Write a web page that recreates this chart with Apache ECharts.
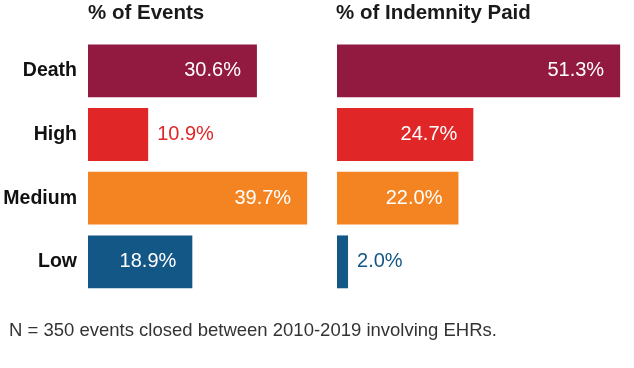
<!DOCTYPE html>
<html>
<head>
<meta charset="utf-8">
<script src="https://cdn.jsdelivr.net/npm/echarts@6/dist/echarts.min.js"></script>
<style>html,body{margin:0;padding:0;background:#fff}#c{width:634px;height:368px}</style>
</head>
<body>
<div id="c"></div>
<script>
var categories = ['Death', 'High', 'Medium', 'Low'];
var eventsPct = [30.6, 10.9, 39.7, 18.9];
var indemnityPct = [51.3, 24.7, 22.0, 2.0];
var barColors = ['#921940', '#E12628', '#F38421', '#135786'];
var panelTitles = ['% of Events', '% of Indemnity Paid'];
var footnote = 'N = 350 events closed between 2010-2019 involving EHRs.';

var boldFont = "'Liberation Sans', Arial, sans-serif";
var regular = "'Liberation Sans', Arial, sans-serif";

function buildData(values) {
  return values.map(function (v, i) {
    var outside = v < 15;
    return {
      value: v,
      itemStyle: { color: barColors[i] },
      label: outside
        ? { position: 'right', distance: 9, color: barColors[i] }
        : { position: 'insideRight', distance: 16, color: '#ffffff' }
    };
  });
}

var chart = echarts.init(document.getElementById('c'), null, { renderer: 'canvas' });
chart.setOption({
  animation: false,
  backgroundColor: '#ffffff',
  title: [
    { text: panelTitles[0], left: 88, top: 3, padding: 0,
      textStyle: { fontFamily: boldFont, fontWeight: 'bold', fontSize: 20.5, color: '#1a1a1a' } },
    { text: panelTitles[1], left: 336, top: 3, padding: 0,
      textStyle: { fontFamily: boldFont, fontWeight: 'bold', fontSize: 20.5, color: '#1a1a1a' } },
    { text: footnote, left: 9, top: 321, padding: 0,
      textStyle: { fontFamily: regular, fontWeight: 'normal', fontSize: 18.5, color: '#333333' } }
  ],
  grid: [
    { left: 88, top: 39, width: 248.4, height: 254.7, outerBoundsMode: 'none', containLabel: false },
    { left: 337, top: 39, width: 287, height: 254.7, outerBoundsMode: 'none', containLabel: false }
  ],
  xAxis: [
    { type: 'value', gridIndex: 0, min: 0, max: 45, show: false },
    { type: 'value', gridIndex: 1, min: 0, max: 52, show: false }
  ],
  yAxis: [
    { type: 'category', gridIndex: 0, data: categories, inverse: true,
      axisLine: { show: false }, axisTick: { show: false }, splitLine: { show: false },
      axisLabel: { margin: 11, fontFamily: boldFont, fontWeight: 'bold', fontSize: 19.5, color: '#111111' } },
    { type: 'category', gridIndex: 1, data: categories, inverse: true, show: false }
  ],
  series: [
    { type: 'bar', xAxisIndex: 0, yAxisIndex: 0, data: buildData(eventsPct),
      barCategoryGap: '17%',
      label: { show: true, fontFamily: regular, fontSize: 20, formatter: function (p) { return p.value.toFixed(1) + '%'; } } },
    { type: 'bar', xAxisIndex: 1, yAxisIndex: 1, data: buildData(indemnityPct),
      barCategoryGap: '17%',
      label: { show: true, fontFamily: regular, fontSize: 20, formatter: function (p) { return p.value.toFixed(1) + '%'; } } }
  ]
});
</script>
</body>
</html>
